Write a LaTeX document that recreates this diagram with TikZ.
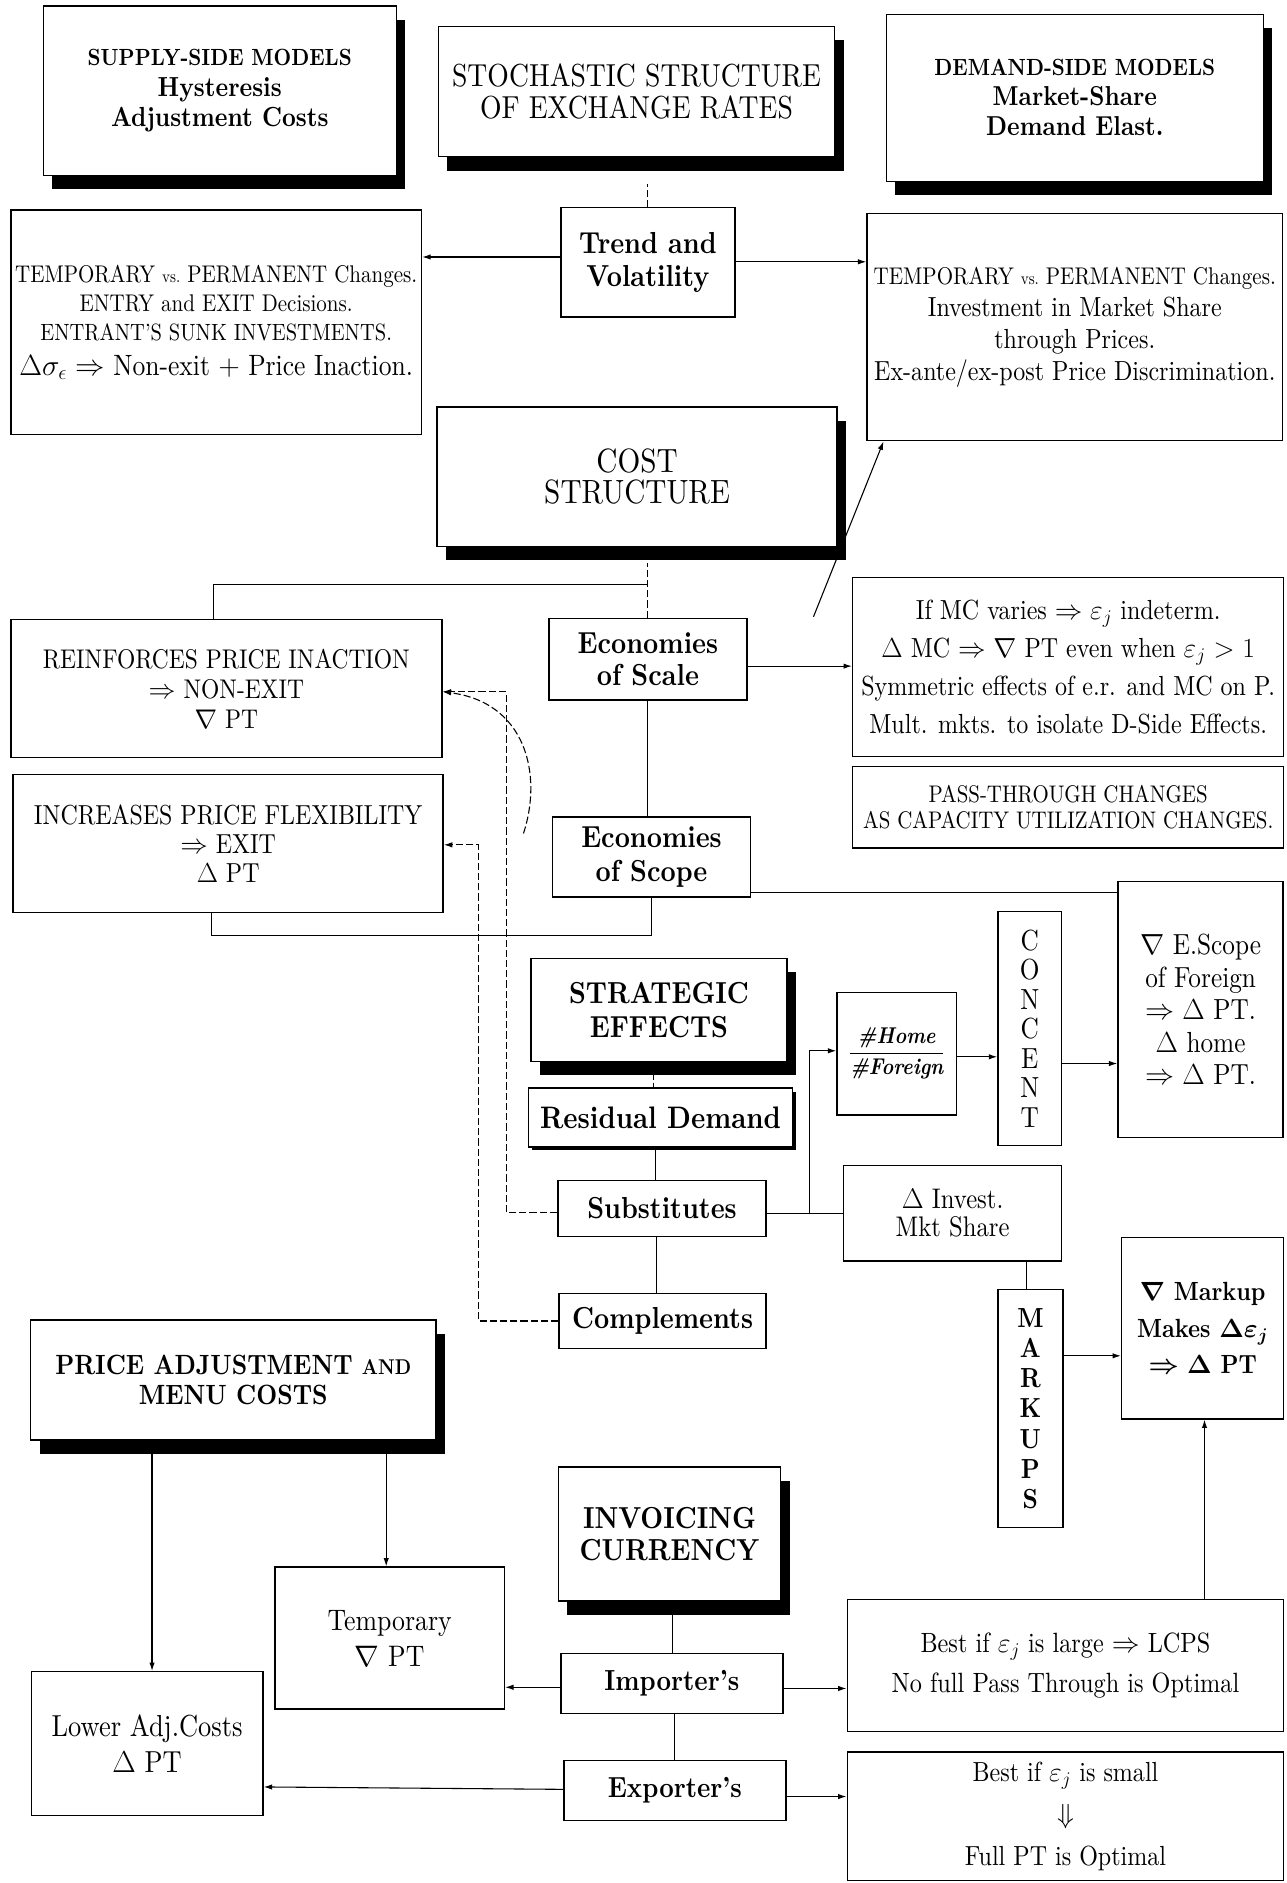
\RequirePackage{fix-cm}
\documentclass[tikz,border=0pt]{standalone}
\usepackage{graphicx}
\usetikzlibrary{arrows.meta,shadows}
\DeclareFontFamily{TU}{lmx}{}
\DeclareFontShape{TU}{lmx}{m}{n}{<-> "[lmroman10-regular]:mapping=tex-text;extend=0.87"}{}
\DeclareFontShape{TU}{lmx}{m}{it}{<-> "[lmroman10-italic]:mapping=tex-text;extend=0.87"}{}
\DeclareFontShape{TU}{lmx}{bx}{n}{<-> "[lmroman10-bold]:mapping=tex-text;extend=0.87"}{}
\DeclareFontShape{TU}{lmx}{bx}{it}{<-> "[lmroman10-bolditalic]:mapping=tex-text;extend=0.87"}{}
\DeclareFontShape{TU}{lmx}{b}{n}{<->ssub * lmx/bx/n}{}
\DeclareFontShape{TU}{lmx}{b}{it}{<->ssub * lmx/bx/it}{}
\renewcommand{\rmdefault}{lmx}
\newcommand{\myfs}[2]{\fontsize{#1}{#2}\selectfont}
\newcommand{\svs}{\scalebox{0.72}{vs.}}
\begin{document}
\begin{tikzpicture}[x=1pt,y=-1pt,
  box/.style={draw,line width=1.2pt,fill=white,inner sep=0pt,align=center},
  shbox/.style={box,general shadow={fill=black,shadow xshift=7.5pt,shadow yshift=-11.5pt}},
  thinshbox/.style={box,general shadow={fill=black,shadow xshift=3pt,shadow yshift=-3pt}},
  conn/.style={line width=0.9pt},
  arr/.style={conn,-{Latex[length=7pt,width=4.5pt]}},
  dconn/.style={conn,dash pattern=on 6pt off 2.5pt},
  darr/.style={dconn,-{Latex[length=7pt,width=4.5pt]}}
]
\fill[white] (0,0) rectangle (1071,1568);
\useasboundingbox (0,0) rectangle (1071,1568);

% ---------- boxes ----------
\node[shbox,minimum width=294pt,minimum height=141pt,font=\bfseries\myfs{23}{25.5}] (supply) at (183,75.5)
  {{\myfs{19.5}{25.5}SUPPLY-SIDE MODELS}\\Hysteresis\\Adjustment Costs};
\node[shbox,minimum width=330pt,minimum height=108.5pt,font=\myfs{26.5}{26}] (stoch) at (530,76.25)
  {STOCHASTIC STRUCTURE\\OF EXCHANGE RATES};
\node[shbox,minimum width=314pt,minimum height=139pt,font=\bfseries\myfs{22.8}{25}] (demand) at (895,81.5)
  {{\myfs{19.5}{25}DEMAND-SIDE MODELS}\\Market-Share\\Demand Elast.};
\node[box,minimum width=342pt,minimum height=187pt,font=\myfs{20.1}{24}] (tl) at (180,268.5)
  {TEMPORARY \svs{} PERMANENT Changes.\\ENTRY and EXIT Decisions.\\{\myfs{19.6}{24}ENTRANT'S SUNK INVESTMENTS.}\\[5pt]{\myfs{24.5}{24}$\Delta\sigma_{\epsilon}\Rightarrow$ Non-exit $+$ Price Inaction.}};
\node[box,minimum width=145pt,minimum height=91pt,font=\bfseries\myfs{25.3}{27}] (trend) at (539.5,218.5)
  {Trend and\\Volatility};
\node[box,minimum width=346pt,minimum height=189pt,font=\myfs{23}{26.5}] (tr) at (895,272.5)
  {{\myfs{20.1}{26.5}TEMPORARY \svs{} PERMANENT Changes.}\\Investment in Market Share\\through Prices.\\Ex-ante/ex-post Price Discrimination.};
\node[shbox,minimum width=333pt,minimum height=116pt,font=\myfs{28}{26}] (cost) at (530.5,397)
  {COST\\STRUCTURE};
\node[box,minimum width=165pt,minimum height=68pt,font=\bfseries\myfs{25.3}{26}] (escale) at (539.5,549)
  {Economies\\of Scale};
\node[box,minimum width=359pt,minimum height=115pt,font=\myfs{22.5}{25}] (reinf) at (188.5,573.5)
  {REINFORCES PRICE INACTION\\$\Rightarrow$ NON-EXIT\\$\nabla$ PT};
\node[box,minimum width=359pt,minimum height=149pt,font=\myfs{23}{31.5}] (ifmc) at (889.5,555.5)
  {If MC varies $\Rightarrow\varepsilon_j$ indeterm.\\$\Delta$ MC $\Rightarrow\nabla$ PT even when $\varepsilon_j>1$\\Symmetric effects of e.r. and MC on P.\\Mult. mkts. to isolate D-Side Effects.};
\node[box,minimum width=359pt,minimum height=67.5pt,font=\myfs{20}{21.5}] (pass) at (889.5,672.25)
  {PASS-THROUGH CHANGES\\AS CAPACITY UTILIZATION CHANGES.};
\node[box,minimum width=358pt,minimum height=115pt,font=\myfs{22.9}{24.5}] (incr) at (190,702.5)
  {INCREASES PRICE FLEXIBILITY\\$\Rightarrow$ EXIT\\$\Delta$ PT};
\node[box,minimum width=165pt,minimum height=66.5pt,font=\bfseries\myfs{25.3}{28}] (escope) at (542.5,713.75)
  {Economies\\of Scope};
\node[shbox,minimum width=213.5pt,minimum height=86pt,font=\bfseries\myfs{25.3}{28}] (strat) at (548.75,841)
  {STRATEGIC\\EFFECTS};
\node[box,minimum width=99.5pt,minimum height=102pt,font=\myfs{19}{20}] (home) at (746.75,877.5)
  {$\displaystyle\frac{\mbox{\bfseries\itshape\#Home}}{\mbox{\bfseries\itshape\#Foreign}}$};
\node[box,minimum width=53pt,minimum height=195pt,font=\myfs{24.2}{24.6}] (conc) at (857.5,856.5)
  {C\\O\\N\\C\\E\\N\\T};
\node[box,minimum width=137.5pt,minimum height=213pt,font=\myfs{24.2}{27}] (escf) at (999.75,840.5)
  {$\nabla$ E.Scope\\of Foreign\\$\Rightarrow\Delta$ PT.\\$\Delta$ home\\$\Rightarrow\Delta$ PT.};
\node[thinshbox,minimum width=220pt,minimum height=49pt,font=\bfseries\myfs{25.9}{26}] (resid) at (550,930.5)
  {Residual Demand};
\node[box,minimum width=173.5pt,minimum height=46.5pt,font=\bfseries\myfs{25.3}{26}] (subst) at (551.25,1006.25)
  {Substitutes};
\node[box,minimum width=181.5pt,minimum height=79.5pt,font=\myfs{23.6}{23}] (invest) at (793.25,1010.25)
  {$\Delta$ Invest.\\Mkt Share};
\node[box,minimum width=172.5pt,minimum height=46pt,font=\bfseries\myfs{25.3}{26}] (compl) at (551.75,1100)
  {Complements};
\node[box,minimum width=135pt,minimum height=151pt,font=\bfseries\boldmath\myfs{21.9}{30.5}] (markup) at (1001.5,1106)
  {$\nabla$ Markup\\Makes $\Delta\varepsilon_j$\\$\Rightarrow\Delta$ PT};
\node[box,minimum width=54pt,minimum height=198pt,font=\bfseries\myfs{23}{25}] (markups) at (858,1173)
  {M\\A\\R\\K\\U\\P\\S};
\node[shbox,minimum width=337.5pt,minimum height=100pt,font=\bfseries\myfs{23.2}{25}] (price) at (194.25,1149)
  {PRICE ADJUSTMENT {\myfs{17.8}{25}AND}\\MENU COSTS};
\node[shbox,minimum width=185pt,minimum height=111.5pt,font=\bfseries\myfs{25.3}{27}] (invoic) at (557.5,1277.25)
  {INVOICING\\CURRENCY};
\node[box,minimum width=191pt,minimum height=118pt,font=\myfs{24.7}{30}] (tempo) at (324.5,1364)
  {Temporary\\$\nabla$ PT};
\node[box,minimum width=363.5pt,minimum height=110pt,font=\myfs{23.2}{33}] (lcps) at (887.25,1387)
  {Best if $\varepsilon_j$ is large $\Rightarrow$ LCPS\\No full Pass Through is Optimal};
\node[box,minimum width=185pt,minimum height=50pt,font=\bfseries\myfs{24.2}{25}] (import) at (559.5,1402)
  {Importer's};
\node[box,minimum width=193pt,minimum height=120pt,font=\myfs{25.3}{30}] (lower) at (122.5,1452)
  {Lower Adj.Costs\\$\Delta$ PT};
\node[box,minimum width=185pt,minimum height=50pt,font=\bfseries\myfs{24.2}{25}] (export) at (562,1491)
  {Exporter's};
\node[box,minimum width=363.5pt,minimum height=107pt,font=\myfs{23}{35}] (small) at (887.25,1512.5)
  {Best if $\varepsilon_j$ is small\\$\Downarrow$\\Full PT is Optimal};

% ---------- connectors ----------
\draw[dconn] (trend.north) -- ++(0,-19);
\draw[arr] (trend.west |- 0,214) -- (tl.east |- 0,214);
\draw[arr] (trend.east |- 0,218) -- (tr.west |- 0,218);
\coordinate (slantfoot) at (677.4,513.6);
\draw[arr] (slantfoot) -- (tr.south -| 735.7,0);
\draw[dconn] (escale.north) -- ++(0,-46);
\draw[conn] (reinf.north -| 177.6,0) |- (escale.north |- 0,486.4);
\draw[arr] (escale.east |- 0,554.7) -- (ifmc.west |- 0,554.7);
\draw[conn] (escale.south) -- (escope.north -| escale.south);
\draw[conn] (escope.south) |- (176.4,779) -- (incr.south -| 176.4,0);
\draw[conn] (escope.east |- 0,743) -- (escf.west |- 0,743);
\coordinate (curvefoot) at (435.9,694);
\draw[darr] (curvefoot) .. controls (452,645) and (438,585) .. (reinf.east |- 0,576);
\draw[darr] (subst.west |- 0,1009.5) -| (421.5,576) -- (reinf.east |- 0,576);
\draw[darr] (compl.west |- 0,1100) -| (398.5,703.5) -- (incr.east |- 0,703.5);
\draw[dconn] (strat.south -| 544,0) -- (resid.north -| 544,0);
\draw[conn] (resid.south -| 546,0) -- (subst.north -| 546,0);
\draw[conn] (subst.south -| 546.4,0) -- (compl.north -| 546.4,0);
\draw[conn] (subst.east |- 0,1010.5) -- (invest.west |- 0,1010.5);
\coordinate (split) at (674,1010.5);
\draw[arr] (split) |- (home.west |- 0,875);
\draw[arr] (home.east |- 0,880) -- (conc.west |- 0,880);
\draw[arr] (conc.east |- 0,885.6) -- (escf.west |- 0,885.6);
\draw[conn] (invest.south -| 855,0) -- (markups.north -| 855,0);
\draw[arr] (markups.east |- 0,1129) -- (markup.west |- 0,1129);
\draw[arr] (lcps.north -| 1003,0) -- (markup.south -| 1003,0);
\draw[arr] (price.south -| 126.6,0) -- (lower.north -| 126.6,0);
\draw[arr] (price.south -| 321.6,0) -- (tempo.north -| 321.6,0);
\draw[conn] (invoic.south -| 560,0) -- (import.north -| 560,0);
\draw[arr] (import.west |- 0,1405) -- (tempo.east |- 0,1405);
\draw[arr] (import.east |- 0,1406) -- (lcps.west |- 0,1406);
\draw[conn] (import.south -| 562,0) -- (export.north -| 562,0);
\draw[arr] (export.west |- 0,1490) -- (lower.east |- 0,1488);
\draw[arr] (export.east |- 0,1496) -- (small.west |- 0,1496);
\end{tikzpicture}
\end{document}
